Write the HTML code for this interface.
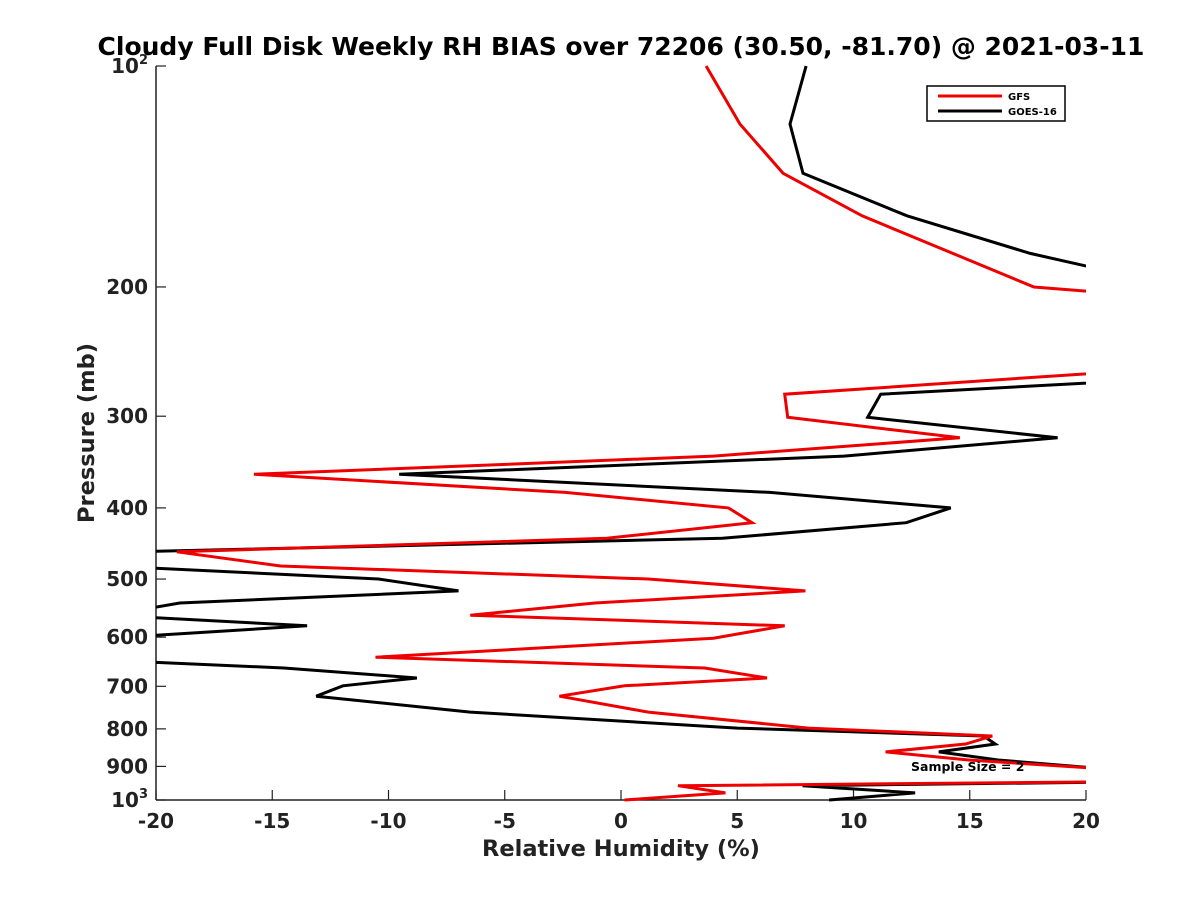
<!DOCTYPE html>
<html><head><meta charset="utf-8"><style>
body{margin:0;background:#fff}
svg{display:block;font-family:"DejaVu Sans","Liberation Sans",sans-serif}
</style></head><body>
<svg id="chart" width="1200" height="900">
<text x="621" y="55" text-anchor="middle" font-weight="bold" font-size="25">Cloudy Full Disk Weekly RH BIAS over 72206 (30.50, -81.70) @ 2021-03-11</text>
<defs><clipPath id="clip"><rect x="156" y="60" width="930" height="742"/></clipPath></defs>
<g id="axes"></g>
<g id="series" clip-path="url(#clip)"></g>
<text x="621" y="856" text-anchor="middle" font-weight="bold" font-size="22.5" fill="#222">Relative Humidity (%)</text>
<text transform="translate(94,433) rotate(-90)" text-anchor="middle" font-weight="bold" font-size="22.5" fill="#222">Pressure (mb)</text>
<text x="911" y="771" font-weight="bold" font-size="12.5">Sample Size = 2</text>
<g>
<rect x="927" y="86" width="138" height="35" fill="#fff" stroke="#000" stroke-width="1.5"/>
<line x1="938" y1="96" x2="1002" y2="96" stroke="#e00" stroke-width="3"/>
<text x="1008" y="100" font-size="10" font-weight="bold">GFS</text>
<line x1="938" y1="111" x2="1002" y2="111" stroke="#000" stroke-width="3"/>
<text x="1008" y="115" font-size="10" font-weight="bold">GOES-16</text>
</g>
</svg>
<script>
const gfsP=[100,120,140,160,200,203,250,280,301,321,340,360,381,400,419,440,459,480,500,519,539,560,579,602,639,661,682,699,722,759,798,818,839,860,882,908,942,956,978,1000];
const gfsV=[3.66,5.12,6.97,10.37,17.76,20.3,30,7.04,7.17,14.57,3.98,-15.79,-2.4,4.62,5.64,-0.61,-19.1,-14.64,1.17,7.93,-1.12,-6.48,7.04,3.98,-10.56,3.6,6.28,0.15,-2.65,1.17,8.06,15.97,14.82,11.38,14.95,21,25,2.45,4.49,0.15];
const goesP=[100,120,140,160,180,200,250,280,301,321,340,360,381,400,419,440,459,480,500,519,539,560,579,602,639,661,682,699,722,759,798,818,839,860,882,908,942,956,978,1000];
const goesV=[7.96,7.27,7.83,12.3,17.6,24,40,11.17,10.61,18.78,9.59,-9.54,6.4,14.18,12.27,4.36,-21,-22,-10.43,-6.99,-18.98,-22,-13.5,-22,-25,-14.5,-8.78,-11.96,-13.11,-6.48,5.0,15.59,16.1,13.67,16.22,21,25,7.81,12.65,8.95];
const xTicks=[-20,-15,-10,-5,0,5,10,15,20];
const yTicks=[100,200,300,400,500,600,700,800,900,1000];
const yTickLabels=["10|2","200","300","400","500","600","700","800","900","10|3"];
const NS="http://www.w3.org/2000/svg";
const X=v=>156+(v+20)*930/40;
const Y=p=>66+734*Math.log10(p/100);
function mk(t,a,parent){const e=document.createElementNS(NS,t);for(const k in a)e.setAttribute(k,a[k]);parent.appendChild(e);return e;}
const axes=document.getElementById('axes'),ser=document.getElementById('series');
const ya=mk('line',{x1:156,y1:66,x2:156,y2:800,stroke:'#222','stroke-width':1.5},axes);


const xa=mk('line',{x1:156,y1:800,x2:1086,y2:800,stroke:'#222','stroke-width':1.5},axes);


xTicks.forEach(v=>{
 const t=mk('line',{x1:X(v),y1:800,x2:X(v),y2:790,stroke:'#222','stroke-width':1.2},axes);
 
 
 const l=mk('text',{x:X(v),y:828,'text-anchor':'middle','font-weight':'bold','font-size':20,fill:'#222'},axes);
 l.textContent=v;
 
 
});
yTicks.forEach((p,i)=>{
 const t=mk('line',{x1:156,y1:Y(p),x2:166,y2:Y(p),stroke:'#222','stroke-width':1.2},axes);
 
 
 const l=mk('text',{x:148,y:Y(p)+7,'text-anchor':'end','font-weight':'bold','font-size':20,fill:'#222'},axes);
 const parts=yTickLabels[i].split('|');
 l.appendChild(document.createTextNode(parts[0]));
 if(parts[1]){const s=mk('tspan',{'font-size':13,dy:-9},l);s.textContent=parts[1];}
 
 
});
function draw(P,V,c,name){
 const pts=P.map((p,i)=>X(V[i]).toFixed(1)+','+Y(p).toFixed(1)).join(' ');
 const pl=mk('polyline',{points:pts,fill:'none',stroke:c,'stroke-width':3,'stroke-linejoin':'miter'},ser);
 
 
}
draw(goesP,goesV,'#000','goes16-line');
draw(gfsP,gfsV,'#e00','gfs-line');
</script>
</body></html>
